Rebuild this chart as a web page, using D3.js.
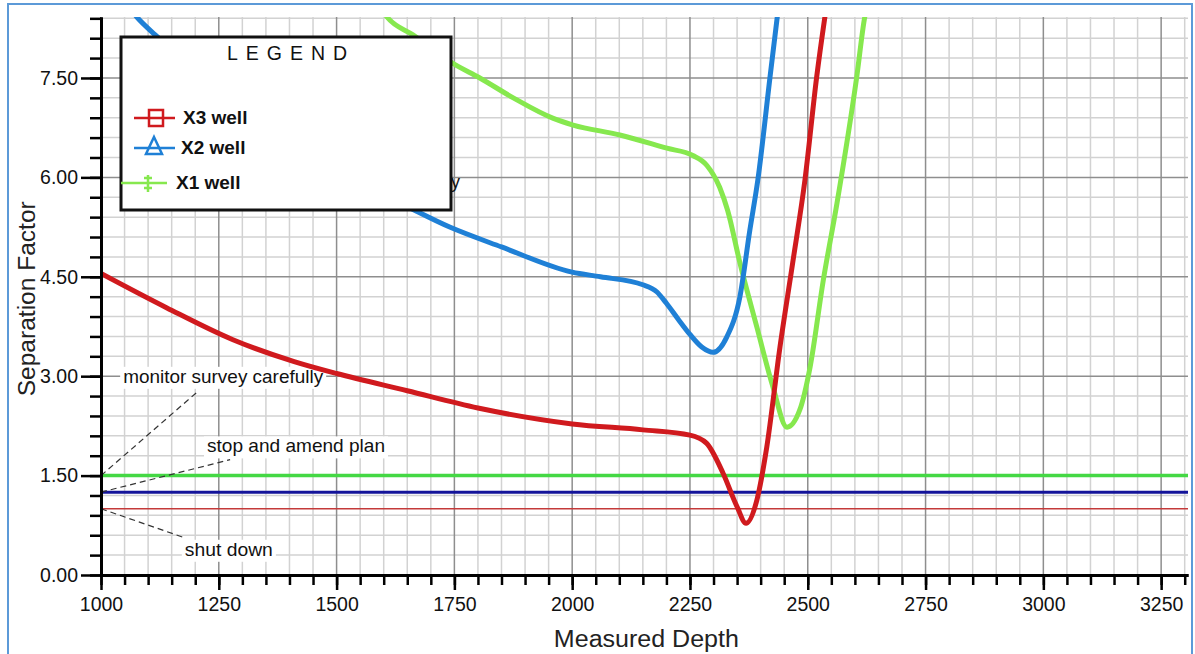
<!DOCTYPE html>
<html>
<head>
<meta charset="utf-8">
<script src="https://cdn.jsdelivr.net/npm/d3@7"></script>
<style>
body { margin: 0; background: #fff; }
svg { display: block; font-family: "Liberation Sans", Arial, sans-serif; }
</style>
</head>
<body>
<div id="chart"></div>
<script>
// wells: measured depth vs separation factor
var x3Depth = [1000, 1140, 1280, 1410, 1500, 1650, 1800, 2000, 2150, 2250, 2285, 2320, 2350, 2369, 2392, 2413, 2441, 2468, 2494, 2519, 2540];
var x3SF    = [4.55, 4.03, 3.55, 3.22, 3.04, 2.78, 2.52, 2.28, 2.19, 2.11, 1.99, 1.54, 1.03, 0.78, 1.13, 1.93, 3.44, 4.71, 5.96, 7.52, 8.6];

var x2Depth = [1000, 1076, 1115, 1200, 1300, 1400, 1500, 1635, 1740, 1850, 2000, 2060, 2150, 2180, 2200, 2225, 2250, 2275, 2299, 2328, 2356, 2377, 2394, 2420, 2440];
var x2SF    = [9.2, 8.42, 8.15, 7.65, 7.05, 6.52, 6.07, 5.61, 5.25, 4.95, 4.57, 4.50, 4.38, 4.27, 4.10, 3.86, 3.63, 3.44, 3.36, 3.59, 4.2, 5.2, 5.96, 7.52, 8.7];

var x1Depth = [1560, 1607, 1662, 1747, 1804, 1875, 1960, 2002, 2101, 2201, 2256, 2286, 2313, 2330, 2356, 2392, 2426, 2456, 2483, 2505, 2533, 2562, 2604, 2621, 2640];
var x1SF    = [9.0, 8.42, 8.15, 7.72, 7.50, 7.2, 6.89, 6.79, 6.64, 6.44, 6.33, 6.18, 5.85, 5.5, 4.71, 3.74, 2.84, 2.23, 2.49, 3.14, 4.45, 5.61, 7.52, 8.42, 8.8];

// rule lines
var ruleNames  = ["monitor survey carefully", "stop and amend plan", "shut down"];
var ruleValues = [1.5, 1.25, 1.0];

// axis ticks
var xTicks = [1000, 1250, 1500, 1750, 2000, 2250, 2500, 2750, 3000, 3250];
var yTicks = [0, 1.5, 3, 4.5, 6, 7.5];

var seriesNames = ["X3 well", "X2 well", "X1 well"];

var margin = {top: 17, right: 7, bottom: 79, left: 101},
    width = 1195 - margin.left - margin.right,
    height = 654 - margin.top - margin.bottom;

var xScale = d3.scaleLinear().domain([1000, 3307]).range([0, width]);
var yScale = d3.scaleLinear().domain([0, 8.42]).range([height, 0]);

var xMinor = d3.range(1000, 3301, 50);
var yMinor = d3.range(0, 29).map(function(i) { return +(i * 0.3).toFixed(1); });

var svgRoot = d3.select("#chart").append("svg")
    .attr("width", 1195)
    .attr("height", 654);

// outer frame
svgRoot.append("rect")
    .attr("x", 8).attr("y", 4)
    .attr("width", 1184).attr("height", 700)
    .style("fill", "none")
    .style("stroke", "#5c9ad8")
    .style("stroke-width", 2);

var svg = svgRoot.append("g")
    .attr("transform", "translate(" + margin.left + "," + margin.top + ")");

svg.append("clipPath").attr("id", "plot-clip")
  .append("rect").attr("x", 0).attr("y", 0).attr("width", width).attr("height", height);

// grid: minor first, then major
svg.append("g").selectAll("line")
    .data(xMinor.filter(function(d) { return (d - 1000) % 250 !== 0; }))
    .enter().append("line")
    .attr("x1", function(d) { return xScale(d); }).attr("x2", function(d) { return xScale(d); })
    .attr("y1", 0).attr("y2", height)
    .style("stroke", "#d2d2d2").style("stroke-width", 1.5);

svg.append("g").selectAll("line")
    .data(yMinor.filter(function(d) { return Math.abs(d / 1.5 - Math.round(d / 1.5)) > 0.01; }))
    .enter().append("line")
    .attr("x1", 0).attr("x2", width)
    .attr("y1", function(d) { return yScale(d); }).attr("y2", function(d) { return yScale(d); })
    .style("stroke", "#d2d2d2").style("stroke-width", 1.5);

svg.append("g").selectAll("line")
    .data(xTicks)
    .enter().append("line")
    .attr("x1", function(d) { return xScale(d); }).attr("x2", function(d) { return xScale(d); })
    .attr("y1", 0).attr("y2", height)
    .style("stroke", "#8e8e8e").style("stroke-width", 1.5);

svg.append("g").selectAll("line")
    .data(yTicks)
    .enter().append("line")
    .attr("x1", 0).attr("x2", width)
    .attr("y1", function(d) { return yScale(d); }).attr("y2", function(d) { return yScale(d); })
    .style("stroke", "#8e8e8e").style("stroke-width", 1.5);

// rule lines
var ruleColors = ["#44d844", "#14149a", "#c43a3a"];
var ruleWidths = [3.5, 3, 1.5];
svg.append("g").selectAll("line")
    .data(ruleValues)
    .enter().append("line")
    .attr("x1", 0).attr("x2", width)
    .attr("y1", function(d) { return yScale(d); }).attr("y2", function(d) { return yScale(d); })
    .style("stroke", function(d, i) { return ruleColors[i]; })
    .style("stroke-width", function(d, i) { return ruleWidths[i]; });

// rule annotations: label start (depth, sf), leader end (depth, sf)
var noteLabelAt = [[1047, 2.9], [1225, 1.85], [1178, 0.29]];
var noteLeaderTo = [[1204, 2.76], [1274, 1.74], [1174, 0.57]];
var noteLengths = [200, 178, 88];

var notes = svg.append("g");
notes.selectAll("path.leader")
    .data(ruleValues)
    .enter().append("path")
    .attr("class", "leader")
    .attr("d", function(d, i) {
        return "M" + xScale(1000) + "," + yScale(d) + "L" + xScale(noteLeaderTo[i][0]) + "," + yScale(noteLeaderTo[i][1]);
    })
    .style("stroke", "#333").style("stroke-width", 1.2)
    .style("stroke-dasharray", "6,4").style("fill", "none");

notes.selectAll("rect.bg")
    .data(ruleNames)
    .enter().append("rect")
    .attr("class", "bg")
    .attr("x", function(d, i) { return xScale(noteLabelAt[i][0]) - 3; })
    .attr("y", function(d, i) { return yScale(noteLabelAt[i][1]) - 16; })
    .attr("width", function(d, i) { return noteLengths[i] + 6; })
    .attr("height", 22)
    .style("fill", "#fff");

notes.selectAll("text")
    .data(ruleNames)
    .enter().append("text")
    .attr("x", function(d, i) { return xScale(noteLabelAt[i][0]); })
    .attr("y", function(d, i) { return yScale(noteLabelAt[i][1]); })
    .attr("textLength", function(d, i) { return noteLengths[i]; })
    .attr("lengthAdjust", "spacingAndGlyphs")
    .style("font-size", "18.5px")
    .style("fill", "#111")
    .text(function(d) { return d; });

// stray label tucked under the legend
svg.append("text")
    .attr("x", 359).attr("y", 171)
    .attr("text-anchor", "end")
    .style("font-size", "18px")
    .style("fill", "#111")
    .text("carefully");

// well curves
var line = d3.line()
    .x(function(d) { return xScale(d[0]); })
    .y(function(d) { return yScale(d[1]); })
    .curve(d3.curveMonotoneX);

var wells = [
    d3.zip(x3Depth, x3SF),
    d3.zip(x2Depth, x2SF),
    d3.zip(x1Depth, x1SF)
];
var wellColors = ["#d01a1e", "#1f80d6", "#86e84e"];

svg.append("g").attr("clip-path", "url(#plot-clip)")
  .selectAll("path")
    .data(wells.slice().reverse())
    .enter().append("path")
    .attr("d", line)
    .style("fill", "none")
    .style("stroke", function(d, i) { return wellColors[2 - i]; })
    .style("stroke-width", 5)
    .style("stroke-linejoin", "round");

// axes
var xAxisMinor = svg.append("g")
    .attr("transform", "translate(0," + height + ")")
    .call(d3.axisBottom(xScale).tickValues(xMinor).tickSize(10).tickSizeOuter(0).tickFormat(""));

var xAxis = svg.append("g")
    .attr("class", "x axis")
    .attr("transform", "translate(0," + height + ")")
    .call(d3.axisBottom(xScale).tickValues(xTicks).tickSize(15).tickSizeOuter(0).tickPadding(7).tickFormat(d3.format("d")));

var yAxisMinor = svg.append("g")
    .call(d3.axisLeft(yScale).tickValues(yMinor).tickSize(11).tickSizeOuter(0).tickFormat(""));

var yAxis = svg.append("g")
    .attr("class", "y axis")
    .call(d3.axisLeft(yScale).tickValues(yTicks).tickSize(20).tickSizeOuter(0).tickPadding(3).tickFormat(d3.format(".2f")));

[xAxisMinor, xAxis, yAxisMinor, yAxis].forEach(function(g) {
    g.selectAll(".tick line").style("stroke", "#000").style("stroke-width", 2.5);
    g.select(".domain").style("stroke", "#000").style("stroke-width", 3);
    g.selectAll("text")
        .style("font-family", "'Liberation Sans', Arial, sans-serif")
        .style("font-size", "19.5px")
        .style("fill", "#111");
});

// axis titles
svg.append("text")
    .attr("x", xScale(1750) + 192)
    .attr("y", height + 72)
    .attr("text-anchor", "middle")
    .attr("textLength", 185)
    .attr("lengthAdjust", "spacingAndGlyphs")
    .style("font-size", "23px")
    .style("fill", "#222")
    .text("Measured Depth");

svg.append("text")
    .attr("transform", "rotate(-90)")
    .attr("x", -(yScale(4.5) + 22))
    .attr("y", -margin.left + 35)
    .attr("text-anchor", "middle")
    .attr("textLength", 195)
    .attr("lengthAdjust", "spacingAndGlyphs")
    .style("font-size", "23px")
    .style("fill", "#222")
    .text("Separation Factor");

// legend
var legend = svg.append("g").attr("transform", "translate(20,20)");
legend.append("rect")
    .attr("x", 0).attr("y", 0)
    .attr("width", 330).attr("height", 173)
    .style("fill", "#fff")
    .style("stroke", "#111")
    .style("stroke-width", 3);

legend.append("text")
    .attr("x", 170).attr("y", 23)
    .attr("text-anchor", "middle")
    .style("font-size", "19.5px")
    .style("letter-spacing", "8px")
    .style("fill", "#111")
    .text("LEGEND");

var rowY = [81, 111, 146];
var rowLineX = [[13, 54], [13, 54], [0, 46]];
var rowTextX = [62, 60, 55];

legend.selectAll("line.key")
    .data(seriesNames)
    .enter().append("line")
    .attr("class", "key")
    .attr("x1", function(d, i) { return rowLineX[i][0]; })
    .attr("x2", function(d, i) { return rowLineX[i][1]; })
    .attr("y1", function(d, i) { return rowY[i]; })
    .attr("y2", function(d, i) { return rowY[i]; })
    .style("stroke", function(d, i) { return wellColors[i]; })
    .style("stroke-width", 2.5);

// markers
legend.append("rect")
    .attr("x", 28).attr("y", rowY[0] - 8)
    .attr("width", 14).attr("height", 16)
    .style("fill", "none")
    .style("stroke", wellColors[0])
    .style("stroke-width", 2.5);

legend.append("path")
    .attr("d", "M" + 33 + "," + (rowY[1] - 11) + "L" + 41 + "," + (rowY[1] + 6) + "L" + 25 + "," + (rowY[1] + 6) + "Z")
    .style("fill", "none")
    .style("stroke", wellColors[1])
    .style("stroke-width", 2.5)
    .style("stroke-linejoin", "miter");

legend.append("path")
    .attr("d", "M27," + (rowY[2] - 8) + "L27," + (rowY[2] + 9) +
               "M23," + (rowY[2] - 5) + "L31," + (rowY[2] - 5) +
               "M23," + (rowY[2] + 5) + "L31," + (rowY[2] + 5))
    .style("fill", "none")
    .style("stroke", wellColors[2])
    .style("stroke-width", 2.5);

legend.selectAll("text.key")
    .data(seriesNames)
    .enter().append("text")
    .attr("class", "key")
    .attr("x", function(d, i) { return rowTextX[i]; })
    .attr("y", function(d, i) { return rowY[i] + 6; })
    .style("font-size", "19px")
    .style("font-weight", "bold")
    .style("fill", "#111")
    .text(function(d) { return d; });
</script>
</body>
</html>
